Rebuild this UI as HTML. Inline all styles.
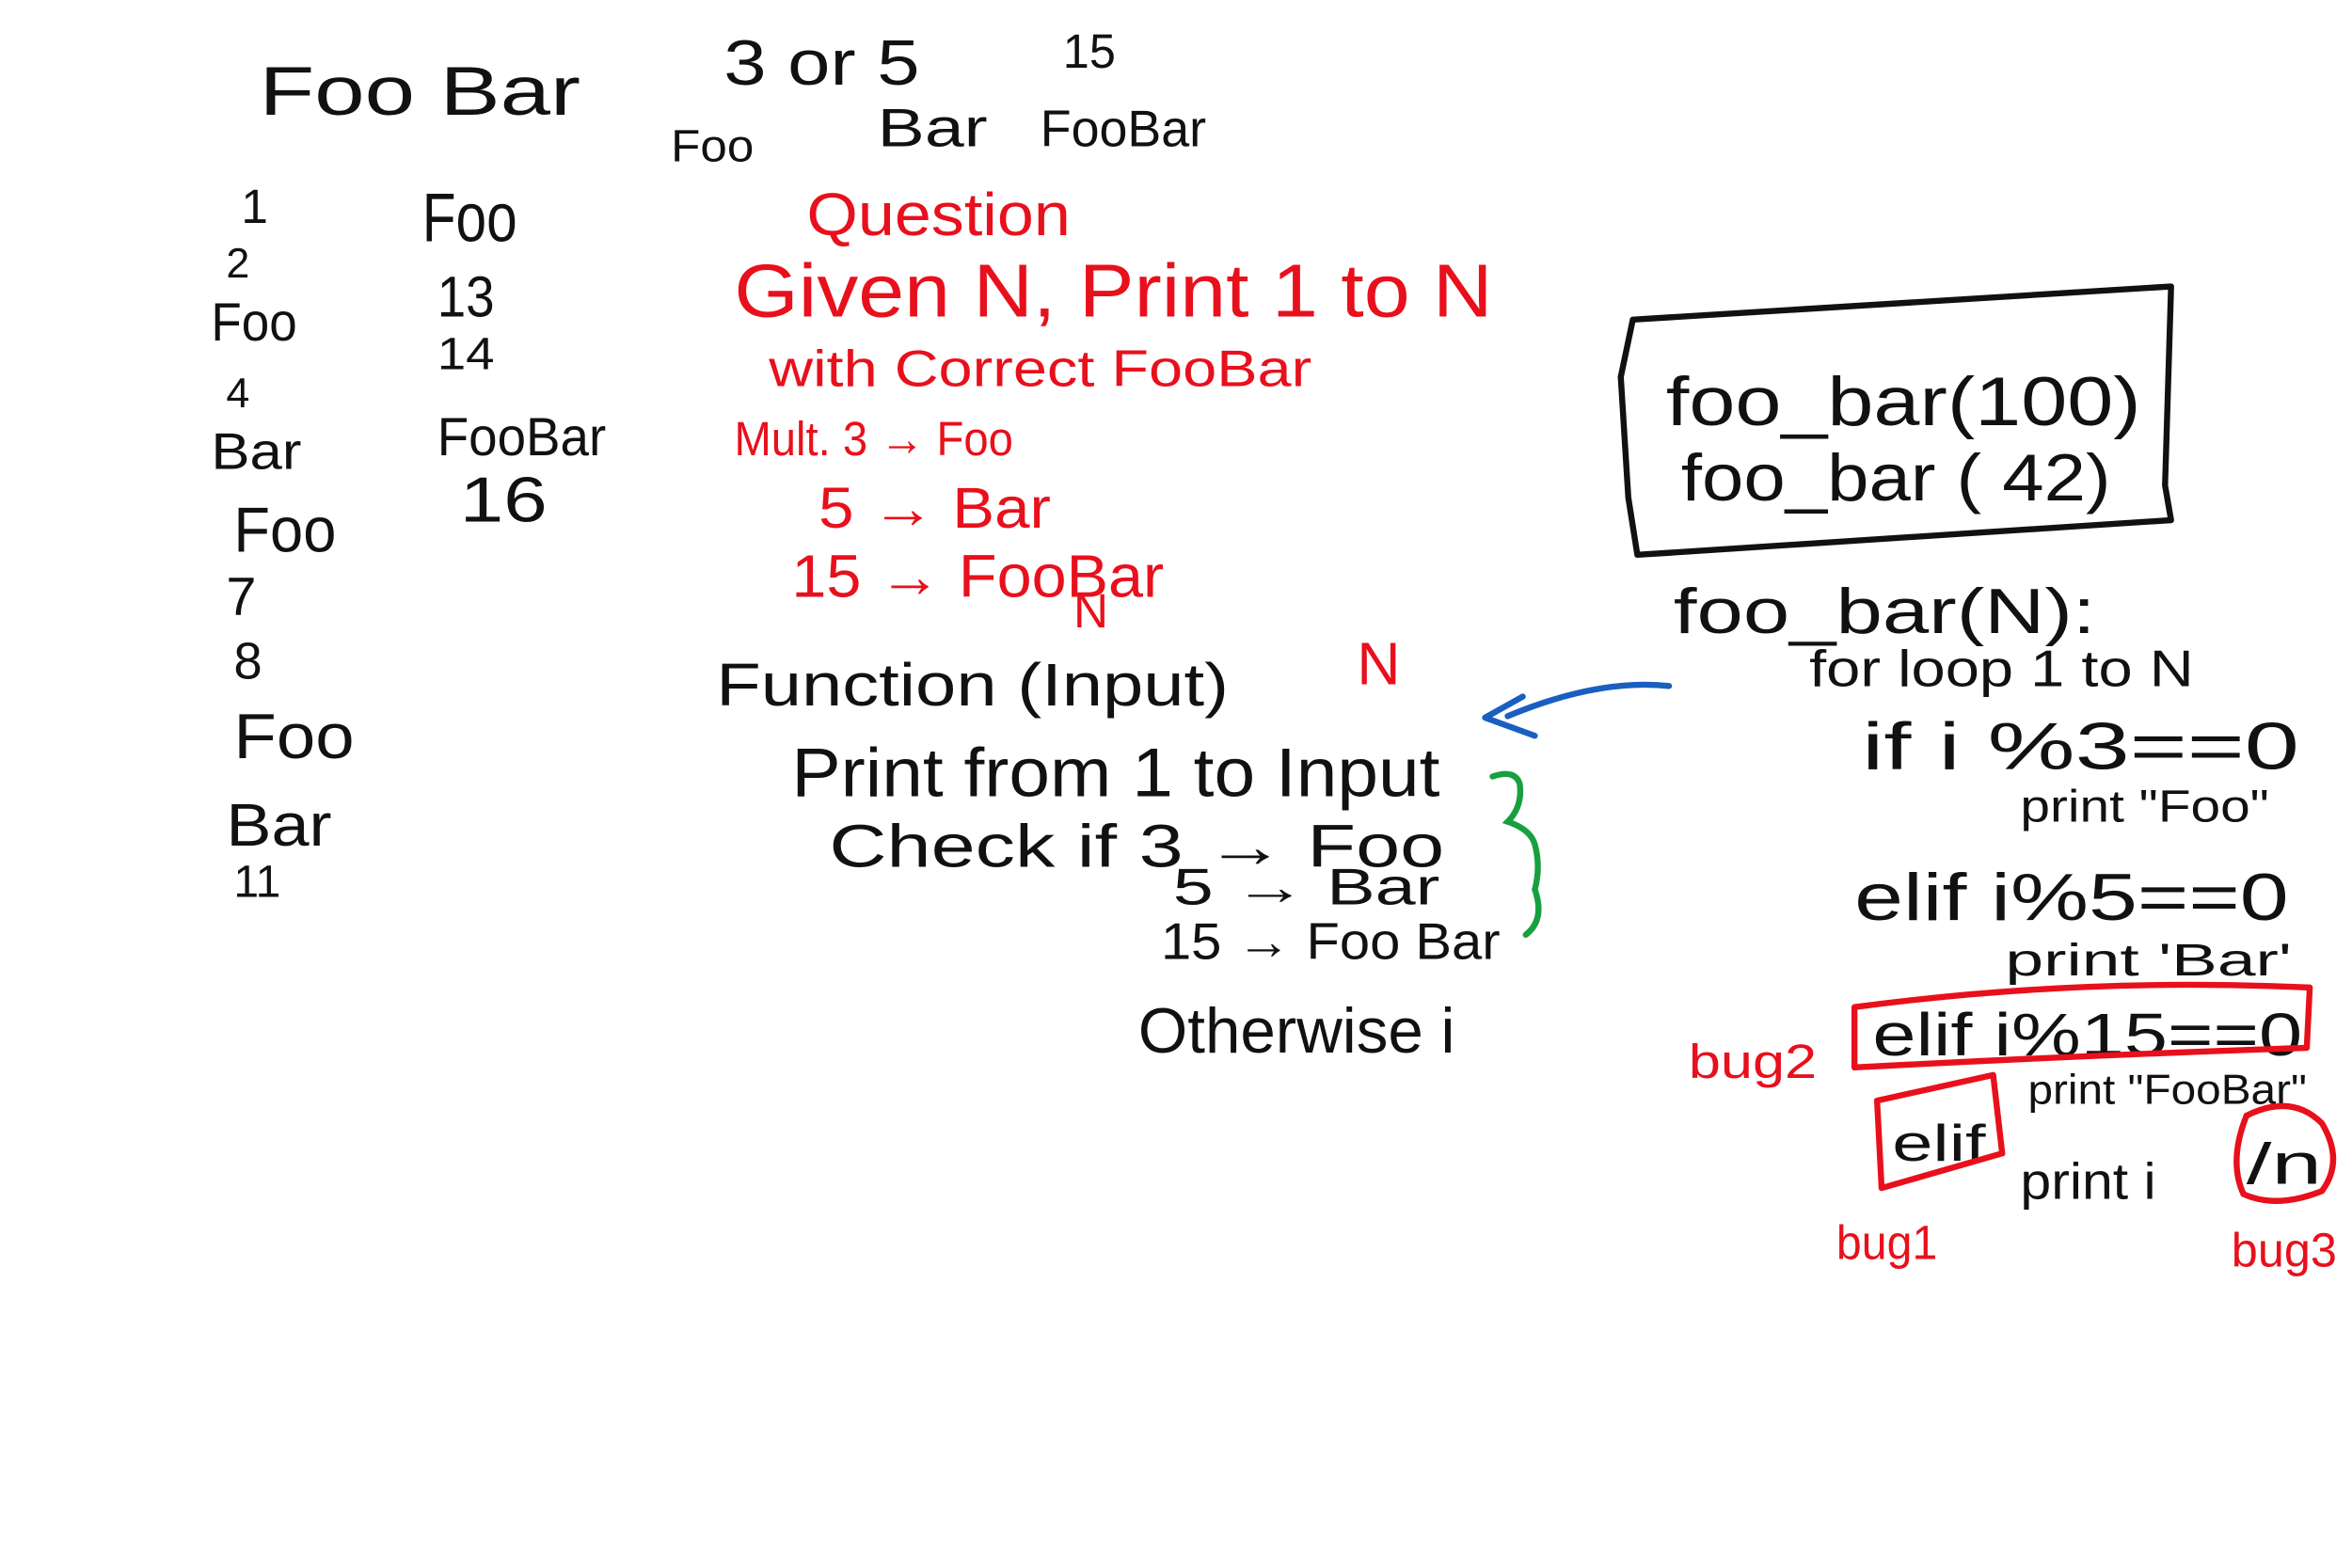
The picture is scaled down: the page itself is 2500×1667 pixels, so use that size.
<!DOCTYPE html>
<html><head><meta charset="utf-8"><style>
html,body{margin:0;padding:0;background:#fff;}
svg{display:block;}
text{font-family:"Liberation Sans",sans-serif;}
.k{fill:#111;}
.r{fill:#e8101c;}
</style></head><body>
<svg width="2500" height="1667" viewBox="0 0 1560 1040" preserveAspectRatio="none" xmlns="http://www.w3.org/2000/svg">
<rect width="1560" height="1040" fill="#fff"/>
<g class="k">
<text x="172" y="76" font-size="46" textLength="213" lengthAdjust="spacingAndGlyphs">Foo Bar</text>
<text x="480" y="56" font-size="42" textLength="130" lengthAdjust="spacingAndGlyphs">3 or 5</text>
<text x="705" y="45" font-size="32" textLength="35" lengthAdjust="spacingAndGlyphs">15</text>
<text x="445" y="107" font-size="30" textLength="55" lengthAdjust="spacingAndGlyphs">Foo</text>
<text x="582" y="97" font-size="36" textLength="73" lengthAdjust="spacingAndGlyphs">Bar</text>
<text x="690" y="97" font-size="34" textLength="110" lengthAdjust="spacingAndGlyphs">FooBar</text>

<text x="160" y="148" font-size="32">1</text>
<text x="150" y="184" font-size="28">2</text>
<text x="140" y="226" font-size="36" textLength="57" lengthAdjust="spacingAndGlyphs">Foo</text>
<text x="150" y="270" font-size="28">4</text>
<text x="140" y="311" font-size="34" textLength="60" lengthAdjust="spacingAndGlyphs">Bar</text>
<text x="155" y="366" font-size="42" textLength="68" lengthAdjust="spacingAndGlyphs">Foo</text>
<text x="150" y="408" font-size="36">7</text>
<text x="155" y="450" font-size="34">8</text>
<text x="155" y="503" font-size="42" textLength="80" lengthAdjust="spacingAndGlyphs">Foo</text>
<text x="150" y="561" font-size="40" textLength="70" lengthAdjust="spacingAndGlyphs">Bar</text>
<text x="155" y="595" font-size="30">11</text>

<text x="280" y="160" font-size="46" textLength="63" lengthAdjust="spacingAndGlyphs">Foo</text>
<text x="290" y="210" font-size="38" textLength="38" lengthAdjust="spacingAndGlyphs">13</text>
<text x="290" y="245" font-size="30" textLength="38" lengthAdjust="spacingAndGlyphs">14</text>
<text x="290" y="302" font-size="36" textLength="112" lengthAdjust="spacingAndGlyphs">FooBar</text>
<text x="305" y="346" font-size="42" textLength="58" lengthAdjust="spacingAndGlyphs">16</text>

<text x="475" y="468" font-size="40" textLength="340" lengthAdjust="spacingAndGlyphs">Function (Input)</text>
<text x="525" y="528" font-size="46" textLength="430" lengthAdjust="spacingAndGlyphs">Print from 1 to Input</text>
<text x="550" y="575" font-size="40" textLength="408" lengthAdjust="spacingAndGlyphs">Check if  3 → Foo</text>
<text x="778" y="600" font-size="34" textLength="177" lengthAdjust="spacingAndGlyphs">5 →  Bar</text>
<text x="770" y="636" font-size="34" textLength="225" lengthAdjust="spacingAndGlyphs">15 → Foo Bar</text>
<text x="755" y="698" font-size="42" textLength="210" lengthAdjust="spacingAndGlyphs">Otherwise  i</text>

<text x="1105" y="282" font-size="46" textLength="315" lengthAdjust="spacingAndGlyphs">foo_bar(100)</text>
<text x="1115" y="332" font-size="44" textLength="285" lengthAdjust="spacingAndGlyphs">foo_bar ( 42)</text>
<text x="1110" y="420" font-size="42" textLength="280" lengthAdjust="spacingAndGlyphs">foo_bar(N):</text>
<text x="1200" y="455" font-size="34" textLength="255" lengthAdjust="spacingAndGlyphs">for loop 1 to N</text>
<text x="1235" y="510" font-size="44" textLength="290" lengthAdjust="spacingAndGlyphs">if  i  %3==0</text>
<text x="1340" y="545" font-size="30" textLength="165" lengthAdjust="spacingAndGlyphs">print "Foo"</text>
<text x="1230" y="610" font-size="44" textLength="288" lengthAdjust="spacingAndGlyphs">elif  i%5==0</text>
<text x="1330" y="647" font-size="30" textLength="190" lengthAdjust="spacingAndGlyphs">print 'Bar'</text>
<text x="1242" y="700" font-size="40" textLength="285" lengthAdjust="spacingAndGlyphs">elif  i%15==0</text>
<text x="1345" y="732" font-size="28" textLength="185" lengthAdjust="spacingAndGlyphs">print "FooBar"</text>
<text x="1255" y="770" font-size="34" textLength="62" lengthAdjust="spacingAndGlyphs">elif</text>
<text x="1340" y="795" font-size="34" textLength="90" lengthAdjust="spacingAndGlyphs">print  i</text>
<text x="1490" y="785" font-size="38" textLength="50" lengthAdjust="spacingAndGlyphs">/n</text>
</g>

<g class="r">
<text x="535" y="156" font-size="40" textLength="175" lengthAdjust="spacingAndGlyphs">Question</text>
<text x="487" y="210" font-size="50" textLength="503" lengthAdjust="spacingAndGlyphs">Given  N,  Print 1 to N</text>
<text x="510" y="256" font-size="34" textLength="360" lengthAdjust="spacingAndGlyphs">with Correct  FooBar</text>
<text x="487" y="302" font-size="32" textLength="185" lengthAdjust="spacingAndGlyphs">Mult. 3 → Foo</text>
<text x="543" y="350" font-size="38" textLength="154" lengthAdjust="spacingAndGlyphs">5 → Bar</text>
<text x="525" y="396" font-size="40" textLength="247" lengthAdjust="spacingAndGlyphs">15 → FooBar</text>
<text x="712" y="416" font-size="32">N</text>
<text x="900" y="454" font-size="40">N</text>
<text x="1120" y="715" font-size="32" textLength="85" lengthAdjust="spacingAndGlyphs">bug2</text>
<text x="1218" y="835" font-size="32" textLength="67" lengthAdjust="spacingAndGlyphs">bug1</text>
<text x="1480" y="840" font-size="32" textLength="70" lengthAdjust="spacingAndGlyphs">bug3</text>
</g>

<path d="M1083 212 L1440 190 L1436 322 L1440 345 L1086 368 L1080 330 L1075 250 Z" fill="none" stroke="#111" stroke-width="4" stroke-linejoin="round"/>
<path d="M1230 668 Q1380 648 1532 655 L1530 695 Q1380 700 1230 708 Z" fill="none" stroke="#e8101c" stroke-width="4" stroke-linejoin="round"/>
<path d="M1245 730 L1322 713 L1328 765 L1248 788 Z" fill="none" stroke="#e8101c" stroke-width="4" stroke-linejoin="round"/>
<path d="M1490 740 Q1520 725 1540 745 Q1555 770 1540 790 Q1510 802 1488 792 Q1478 770 1490 740 Z" fill="none" stroke="#e8101c" stroke-width="4"/>
<path d="M990 515 Q1005 510 1008 520 Q1010 535 1000 545 Q1015 550 1018 560 Q1022 575 1018 590 Q1025 610 1012 620" fill="none" stroke="#18a040" stroke-width="4" stroke-linecap="round"/>
<path d="M1107 455 Q1060 450 1000 475" fill="none" stroke="#1a5fc0" stroke-width="4" stroke-linecap="round"/>
<path d="M1010 462 L985 476 L1018 488" fill="none" stroke="#1a5fc0" stroke-width="4" stroke-linecap="round" stroke-linejoin="round"/>
</svg>
</body></html>
